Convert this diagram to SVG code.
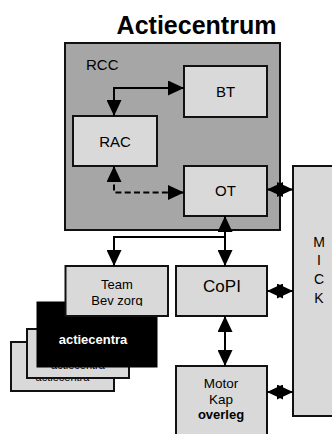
<svg xmlns="http://www.w3.org/2000/svg" width="332" height="434" viewBox="0 0 332 434">
<style>
text{font-family:"Liberation Sans",Arial,sans-serif;fill:#000}
.box{fill:#d9d9d9;stroke:#111;stroke-width:2}
.lbl{font-size:15px;text-anchor:middle}
.sm{font-size:13px;text-anchor:middle}
.con{fill:none;stroke:#000;stroke-width:2}
.hid{font-size:11px;text-anchor:middle}
</style>
<defs>
<marker id="ah" markerUnits="userSpaceOnUse" markerWidth="16" markerHeight="15" refX="16" refY="7.5" orient="auto-start-reverse" viewBox="0 0 16 15">
<path d="M0,0 L16,7.5 L0,15 Z" fill="#000"/>
</marker>
<clipPath id="teamclip"><rect x="65" y="266" width="103" height="40"/></clipPath>
</defs>
<rect width="332" height="434" fill="#fff"/>
<text x="196.5" y="34" style="font-size:25px;font-weight:bold;text-anchor:middle">Actiecentrum</text>
<g id="RCC">
<rect x="65" y="43" width="215" height="187" fill="#a6a6a6" stroke="#111" stroke-width="2"/>
<text x="86" y="70" style="font-size:15px">RCC</text>
</g>
<g id="BT">
<rect class="box" x="184" y="66" width="83" height="51"/>
<text class="lbl" x="225.5" y="97">BT</text>
</g>
<g id="RAC">
<rect class="box" x="73" y="116" width="84" height="50"/>
<text class="lbl" x="115" y="147">RAC</text>
</g>
<g id="OT">
<rect class="box" x="184" y="166" width="83" height="50"/>
<text class="lbl" x="225.5" y="196">OT</text>
</g>
<g id="MICK">
<rect class="box" x="293" y="166" width="60" height="250"/>
<text class="sm" x="319" y="247" style="font-size:14px">M</text>
<text class="sm" x="319" y="265" style="font-size:14px">I</text>
<text class="sm" x="319" y="283.5" style="font-size:14px">C</text>
<text class="sm" x="319" y="302.5" style="font-size:14px">K</text>
</g>
<g id="stack3">
<rect class="box" x="11" y="342" width="103" height="49"/>
<text class="hid" x="62.5" y="381">actiecentra</text>
</g>
<g id="stack2">
<rect class="box" x="27" y="329" width="102" height="49"/>
<text class="hid" x="78" y="368.5">actiecentra</text>
</g>
<g id="actiecentra">
<rect x="37" y="302" width="120" height="65" fill="#000" stroke="#000" stroke-width="1"/>
<text x="93" y="344" style="font-size:13px;font-weight:bold;text-anchor:middle;fill:#fff">actiecentra</text>
</g>
<g id="Team">
<rect class="box" x="65.5" y="266" width="102.5" height="50"/>
<g clip-path="url(#teamclip)">
<text class="sm" x="117" y="288.5">Team</text>
<text class="sm" x="117" y="304.5">Bev zorg</text>
</g>
</g>
<g id="CoPI">
<rect class="box" x="176" y="266" width="91" height="50"/>
<text x="222" y="292" style="font-size:17px;text-anchor:middle">CoPI</text>
</g>
<g id="Motor">
<rect class="box" x="176" y="366" width="91" height="80"/>
<text class="sm" x="221" y="388" style="font-size:13.5px">Motor</text>
<text class="sm" x="221" y="403.5" style="font-size:13.5px">Kap</text>
<text class="sm" x="221" y="418.5" style="font-weight:bold">overleg</text>
</g>
<g id="connectors">
<path class="con" d="M184,88 H114 V116" marker-start="url(#ah)" marker-end="url(#ah)"/>
<path class="con" d="M114,166 V192.5 H184" stroke-dasharray="6,3.3" marker-start="url(#ah)" marker-end="url(#ah)"/>
<path class="con" d="M267,189.5 H293" marker-start="url(#ah)" marker-end="url(#ah)"/>
<path class="con" d="M225,216 V266" marker-start="url(#ah)" marker-end="url(#ah)"/>
<path class="con" d="M225,237 H114 V266" marker-end="url(#ah)"/>
<path class="con" d="M267,291 H293" marker-start="url(#ah)" marker-end="url(#ah)"/>
<path class="con" d="M225,316 V366" marker-start="url(#ah)" marker-end="url(#ah)"/>
<path class="con" d="M267,392 H293" marker-start="url(#ah)" marker-end="url(#ah)"/>
</g>
</svg>
